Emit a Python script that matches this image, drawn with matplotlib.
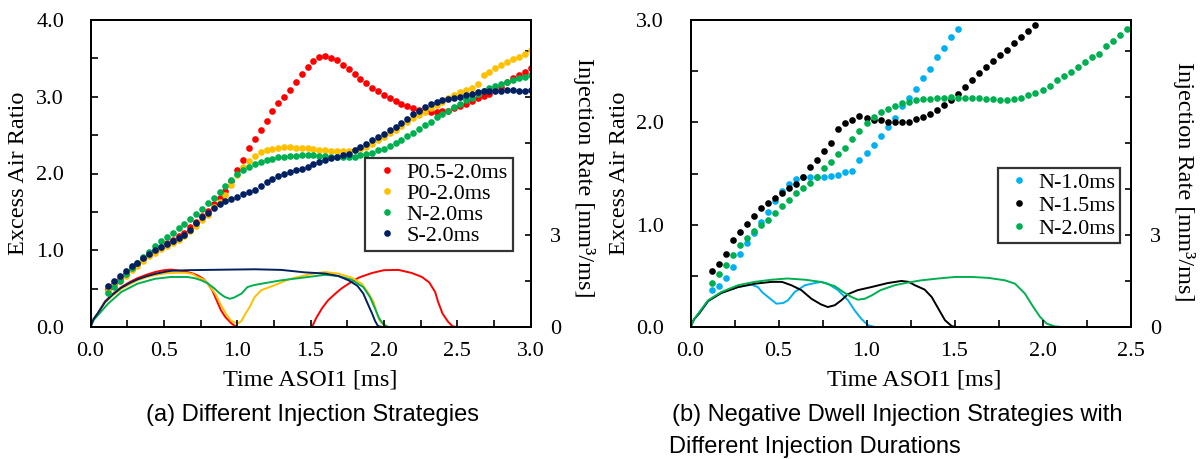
import numpy as np
import matplotlib
matplotlib.use('Agg')
import matplotlib.pyplot as plt
from matplotlib.ticker import MultipleLocator, FormatStrFormatter

plt.rcParams['font.family'] = 'Liberation Serif'

# ---------------- (a) excess air ratio, sampled every 0.04 ms from 0.12 ms
t_a = np.round(np.arange(0.12, 3.001, 0.04), 2)
lam_p05 = [0.50, 0.56, 0.62, 0.69, 0.76, 0.82, 0.88, 0.94, 0.99, 1.04, 1.10, 1.14, 1.18, 1.23, 1.30,
           1.37, 1.44, 1.51, 1.60, 1.68, 1.77, 1.90, 2.05, 2.17, 2.33, 2.45, 2.57, 2.69, 2.81, 2.92,
           3.00, 3.09, 3.19, 3.30, 3.39, 3.47, 3.52, 3.53, 3.51, 3.48, 3.42, 3.36, 3.29, 3.23, 3.18,
           3.12, 3.07, 3.02, 2.99, 2.95, 2.91, 2.88, 2.85, 2.83, 2.81, 2.80, 2.80, 2.81, 2.82, 2.85,
           2.88, 2.91, 2.94, 2.98, 3.01, 3.04, 3.09, 3.13, 3.19, 3.24, 3.28, 3.32, 3.37]
lam_p0 = [0.47, 0.53, 0.60, 0.67, 0.74, 0.80, 0.86, 0.92, 0.97, 1.01, 1.06, 1.10, 1.14, 1.19, 1.25,
          1.32, 1.39, 1.46, 1.56, 1.63, 1.72, 1.85, 1.98, 2.08, 2.16, 2.23, 2.28, 2.31, 2.325, 2.335,
          2.34, 2.34, 2.335, 2.335, 2.33, 2.325, 2.31, 2.30, 2.295, 2.29, 2.29, 2.29, 2.30, 2.32, 2.35,
          2.39, 2.43, 2.48, 2.53, 2.57, 2.62, 2.67, 2.72, 2.76, 2.80, 2.85, 2.89, 2.93, 2.98, 3.02,
          3.06, 3.09, 3.12, 3.16, 3.28, 3.32, 3.37, 3.41, 3.45, 3.49, 3.52, 3.56, 3.61]
lam_n20 = [0.44, 0.52, 0.60, 0.69, 0.77, 0.84, 0.91, 0.98, 1.05, 1.12, 1.17, 1.22, 1.29, 1.34, 1.41,
           1.47, 1.54, 1.61, 1.68, 1.76, 1.84, 1.91, 2.00, 2.05, 2.09, 2.13, 2.15, 2.18, 2.19, 2.21,
           2.215, 2.225, 2.225, 2.235, 2.24, 2.24, 2.23, 2.225, 2.215, 2.215, 2.215, 2.21, 2.215, 2.24,
           2.26, 2.27, 2.30, 2.325, 2.355, 2.40, 2.44, 2.485, 2.53, 2.585, 2.63, 2.67, 2.73, 2.77,
           2.82, 2.87, 2.91, 2.955, 2.99, 3.03, 3.08, 3.11, 3.14, 3.17, 3.19, 3.215, 3.24, 3.26, 3.28]
lam_s20 = [0.54, 0.60, 0.66, 0.73, 0.79, 0.84, 0.90, 0.95, 1.00, 1.04, 1.08, 1.12, 1.16, 1.20, 1.27,
           1.35, 1.43, 1.49, 1.55, 1.60, 1.64, 1.67, 1.70, 1.73, 1.76, 1.79, 1.84, 1.89, 1.93, 1.97,
           2.00, 2.02, 2.04, 2.06, 2.09, 2.12, 2.15, 2.17, 2.20, 2.22, 2.24, 2.26, 2.30, 2.35, 2.39,
           2.43, 2.48, 2.52, 2.57, 2.61, 2.66, 2.71, 2.77, 2.82, 2.86, 2.90, 2.93, 2.96, 2.97, 2.98,
           3.00, 3.02, 3.04, 3.06, 3.07, 3.07, 3.07, 3.08, 3.09, 3.09, 3.08, 3.08, 3.09]

# (a) injection rate [mm3/ms]
rt_p05 = [0, .02, .05, .10, .15, .21, .27, .32, .38, .44, .50, .55, .60, .66, .70, .73, .77, .80, .83, .85,
          .87, .89, .92, .94, .96, .98, 1.0, 1.51, 1.54, 1.58, 1.62, 1.67, 1.71, 1.76, 1.83, 1.92, 2.0,
          2.1, 2.19, 2.26, 2.31, 2.35, 2.37, 2.40, 2.44, 2.47, 2.50, 3.0]
rv_p05 = [0, .25, .45, .84, 1.07, 1.30, 1.47, 1.59, 1.70, 1.79, 1.85, 1.87, 1.84, 1.79, 1.74, 1.68, 1.57,
          1.41, 1.2, .98, .76, .54, .32, .22, .12, .05, 0, 0, .3, .62, .87, 1.09, 1.25, 1.41, 1.61, 1.76,
          1.85, 1.86, 1.76, 1.63, 1.45, 1.14, .82, .44, .16, .02, 0, 0]
rt_p0 = [0, .02, .05, .10, .15, .21, .27, .32, .38, .44, .50, .55, .62, .66, .70, .73, .77, .80, .85, .89,
         .93, .96, .99, 1.01, 1.03, 1.05, 1.085, 1.12, 1.165, 1.21, 1.255, 1.30, 1.346, 1.39, 1.437, 1.48,
         1.53, 1.6, 1.69, 1.78, 1.85, 1.89, 1.93, 1.95, 1.97, 2.01, 2.03, 3.0]
rv_p0 = [0, .25, .45, .80, 1.02, 1.24, 1.40, 1.52, 1.62, 1.69, 1.74, 1.76, 1.77, 1.76, 1.72, 1.63, 1.55,
         1.41, 1.09, .71, .38, .2, .14, .13, .2, .38, .65, .98, 1.2, 1.28, 1.36, 1.45, 1.54, 1.6, 1.65,
         1.70, 1.75, 1.79, 1.74, 1.61, 1.41, 1.14, .82, .49, .22, .03, 0, 0]
rt_n20 = [0, .02, .05, .12, .21, .32, .44, .55, .66, .71, .756, .80, .846, .88, .915, .95, .98, 1.03, 1.07,
          1.11, 1.165, 1.3, 1.437, 1.6, 1.69, 1.78, 1.86, 1.905, 1.94, 1.966, 1.996, 2.03, 3.0]
rv_n20 = [0, .22, .38, .76, 1.14, 1.41, 1.57, 1.63, 1.63, 1.59, 1.52, 1.42, 1.25, 1.10, .98, .92, .96,
          1.09, 1.30, 1.36, 1.41, 1.52, 1.60, 1.70, 1.66, 1.54, 1.30, .98, .60, .30, .09, 0, 0]
rt_s20 = [0, .02, .05, .10, .15, .21, .27, .32, .38, .44, .50, .55, .66, .80, .95, 1.12, 1.30, 1.46, 1.60,
          1.69, 1.76, 1.82, 1.86, 1.89, 1.92, 1.94, 1.96, 1.99, 3.0]
rv_s20 = [0, .25, .45, .82, 1.05, 1.28, 1.44, 1.55, 1.65, 1.73, 1.79, 1.83, 1.85, 1.86, 1.87, 1.88, 1.86,
          1.78, 1.74, 1.66, 1.52, 1.34, 1.09, .76, .44, .2, .03, 0, 0]

# ---------------- (b) negative dwell, different durations
t_b = np.round(np.arange(0.12, 2.481, 0.04), 2)
lam_b10 = [0.36, 0.40, 0.48, 0.59, 0.71, 0.82, 0.92, 1.03, 1.12, 1.23, 1.33, 1.40, 1.45, 1.47, 1.47,
           1.47, 1.47, 1.48, 1.49, 1.51, 1.52, 1.63, 1.70, 1.78, 1.87, 1.95, 2.04, 2.16, 2.24, 2.33,
           2.43, 2.52, 2.64, 2.73, 2.83, 2.91]
lam_b15 = [0.55, 0.62, 0.71, 0.85, 0.93, 1.01, 1.08, 1.16, 1.21, 1.26, 1.31, 1.36, 1.40, 1.47, 1.56,
           1.63, 1.72, 1.80, 1.93, 1.99, 2.02, 2.06, 2.04, 2.02, 2.02, 2.005, 2.005, 2.005, 2.005, 2.03,
           2.05, 2.08, 2.12, 2.17, 2.22, 2.28, 2.35, 2.41, 2.48, 2.54, 2.60, 2.66, 2.71, 2.78, 2.83,
           2.89, 2.95]
lam_b20 = [0.43, 0.52, 0.61, 0.70, 0.805, 0.865, 0.937, 0.995, 1.05, 1.115, 1.184, 1.24, 1.305, 1.354,
           1.41, 1.47, 1.55, 1.61, 1.695, 1.75, 1.835, 1.917, 1.99, 2.05, 2.10, 2.135, 2.16, 2.185, 2.20,
           2.217, 2.224, 2.23, 2.234, 2.24, 2.243, 2.24, 2.234, 2.234, 2.234, 2.227, 2.224, 2.217, 2.217,
           2.224, 2.24, 2.266, 2.29, 2.32, 2.355, 2.41, 2.45, 2.494, 2.54, 2.59, 2.635, 2.67, 2.745,
           2.797, 2.853, 2.908]

rt_b10 = [0, .02, .05, .10, .175, .27, .345, .383, .41, .44, .488, .526, .554, .592, .65, .706, .744, .78,
          .838, .895, .933, .97, 1.008, 1.046, 2.5]
rv_b10 = [0, .25, .45, .84, 1.11, 1.30, 1.38, 1.30, 1.12, .98, .76, .78, .87, 1.14, 1.36, 1.43, 1.47, 1.41,
          1.2, .87, .54, .27, .06, 0, 0]
rt_b15 = [0, .02, .05, .10, .175, .27, .365, .46, .52, .573, .63, .687, .74, .78, .82, .857, .895, .95,
          1.027, 1.12, 1.198, 1.24, 1.275, 1.33, 1.37, 1.408, 1.446, 1.484, 1.51, 2.5]
rv_b15 = [0, .25, .45, .85, 1.11, 1.30, 1.41, 1.47, 1.47, 1.36, 1.2, .92, .74, .65, .71, .87, 1.07, 1.20,
          1.30, 1.43, 1.50, 1.47, 1.36, 1.22, .98, .60, .22, .03, 0, 0]
rt_b20 = [0, .02, .043, .10, .175, .27, .365, .46, .55, .65, .74, .82, .876, .914, .95, .99, 1.03, 1.08,
          1.16, 1.219, 1.31, 1.408, 1.503, 1.597, 1.692, 1.787, 1.844, 1.90, 1.948, 1.986, 2.024, 2.07,
          2.11, 2.5]
rv_b20 = [0, .25, .43, .87, 1.14, 1.36, 1.47, 1.54, 1.58, 1.54, 1.47, 1.33, 1.11, .98, .89, .92, 1.03, 1.2,
          1.36, 1.43, 1.52, 1.58, 1.63, 1.63, 1.60, 1.52, 1.41, 1.09, .65, .33, .11, .02, 0, 0]

RED, YEL, GRN, NAVY = '#FF0000', '#FFC000', '#00B050', '#002060'
BLUE, BLK = '#00B0F0', '#000000'

W, H = 1202, 459
fig = plt.figure(figsize=(W / 100, H / 100), dpi=100)


def px(x, y):
    return x / W, 1 - y / H


def make_panel(left_px, xmax, ymax):
    ax = fig.add_axes([left_px / W, 1 - 327 / H, 440 / W, 307 / H])
    axr = ax.twinx()
    ax.set_zorder(axr.get_zorder() + 1)
    ax.patch.set_visible(False)
    ax.set_xlim(0, xmax)
    ax.set_ylim(0, ymax)
    axr.set_ylim(0, 10)
    ax.xaxis.set_major_locator(MultipleLocator(0.5))
    ax.xaxis.set_minor_locator(MultipleLocator(0.25))
    ax.xaxis.set_major_formatter(FormatStrFormatter('%.1f'))
    ax.yaxis.set_major_locator(MultipleLocator(1.0))
    ax.yaxis.set_minor_locator(MultipleLocator(0.5))
    ax.yaxis.set_major_formatter(FormatStrFormatter('%.1f'))
    ax.tick_params(axis='both', which='both', direction='in', length=5, width=1.2, labelsize=16)
    ax.tick_params(axis='y', pad=19)
    ax.tick_params(axis='x', pad=11)
    axr.set_yticks([0, 1.5, 3, 4.5, 6, 7.5, 9])
    axr.set_yticklabels(['0', '', '3', '', '', '', ''])
    axr.tick_params(axis='y', direction='in', length=4, width=1.2, labelsize=16, pad=14)
    for a in (ax, axr):
        for s in a.spines.values():
            s.set_linewidth(1.4)
    return ax, axr


# ---- panel (a)
ax1, ax1r = make_panel(90.5, 3.0, 4.0)
ax1r.plot(rt_p05, rv_p05, color=RED, lw=1.4)
ax1r.plot(rt_p0, rv_p0, color=YEL, lw=1.4)
ax1r.plot(rt_n20, rv_n20, color=GRN, lw=1.4)
ax1r.plot(rt_s20, rv_s20, color=NAVY, lw=1.4)
ax1.plot(t_a, lam_p05, 'o', ms=4.8, color=RED, mec='none', label='P0.5-2.0ms')
ax1.plot(t_a, lam_p0, 'o', ms=4.8, color=YEL, mec='none', label='P0-2.0ms')
ax1.plot(t_a, lam_n20, 'o', ms=4.8, color=GRN, mec='none', label='N-2.0ms')
ax1.plot(t_a, lam_s20, 'o', ms=4.8, color=NAVY, mec='none', label='S-2.0ms')
leg = ax1.legend(loc='upper left', bbox_to_anchor=(0.623, 0.550), borderaxespad=0, fontsize=16,
                 frameon=True, fancybox=False, edgecolor='black', numpoints=1, handlelength=1.6,
                 handletextpad=0.1, labelspacing=0.02, borderpad=0.2)
leg.get_frame().set_linewidth(1.6)

# ---- panel (b)
ax2, ax2r = make_panel(690.5, 2.5, 3.0)
ax2r.plot(rt_b10, rv_b10, color=BLUE, lw=1.4)
ax2r.plot(rt_b15, rv_b15, color=BLK, lw=1.4)
ax2r.plot(rt_b20, rv_b20, color=GRN, lw=1.4)
ax2.plot(t_b[:len(lam_b10)], lam_b10, 'o', ms=4.8, color=BLUE, mec='none', label='N-1.0ms')
ax2.plot(t_b[:len(lam_b15)], lam_b15, 'o', ms=4.8, color=BLK, mec='none', label='N-1.5ms')
ax2.plot(t_b[:len(lam_b20)], lam_b20, 'o', ms=4.8, color=GRN, mec='none', label='N-2.0ms')
leg2 = ax2.legend(loc='upper left', bbox_to_anchor=(0.699, 0.518), borderaxespad=0, fontsize=16,
                  frameon=True, fancybox=False, edgecolor='black', numpoints=1, handlelength=1.5,
                  handletextpad=0.1, labelspacing=0.1, borderpad=0.2)
leg2.get_frame().set_linewidth(1.6)

# ---- axis titles and captions
lab = dict(fontsize=17.5, ha='center', va='center')
fig.text(*px(19, 173.5), 'Excess Air Ratio', rotation=90, **lab)
fig.text(*px(310, 380), 'Time ASOI1 [ms]', **lab)
fig.text(*px(584, 178), 'Injection Rate [mm³/ms]', rotation=270, **lab)
fig.text(*px(619.6, 173.5), 'Excess Air Ratio', rotation=90, **lab)
fig.text(*px(914, 380), 'Time ASOI1 [ms]', **lab)
fig.text(*px(1184, 182), 'Injection Rate [mm³/ms]', rotation=270, **lab)

cap = dict(fontsize=17, family='Liberation Sans', va='center')
fig.text(*px(312, 415), '(a) Different Injection Strategies', ha='center', **cap)
fig.text(*px(672, 415), '(b) Negative Dwell Injection Strategies with', ha='left', **cap)
fig.text(*px(669, 447), 'Different Injection Durations', ha='left', **cap)

fig.savefig('out.png', dpi=100)
